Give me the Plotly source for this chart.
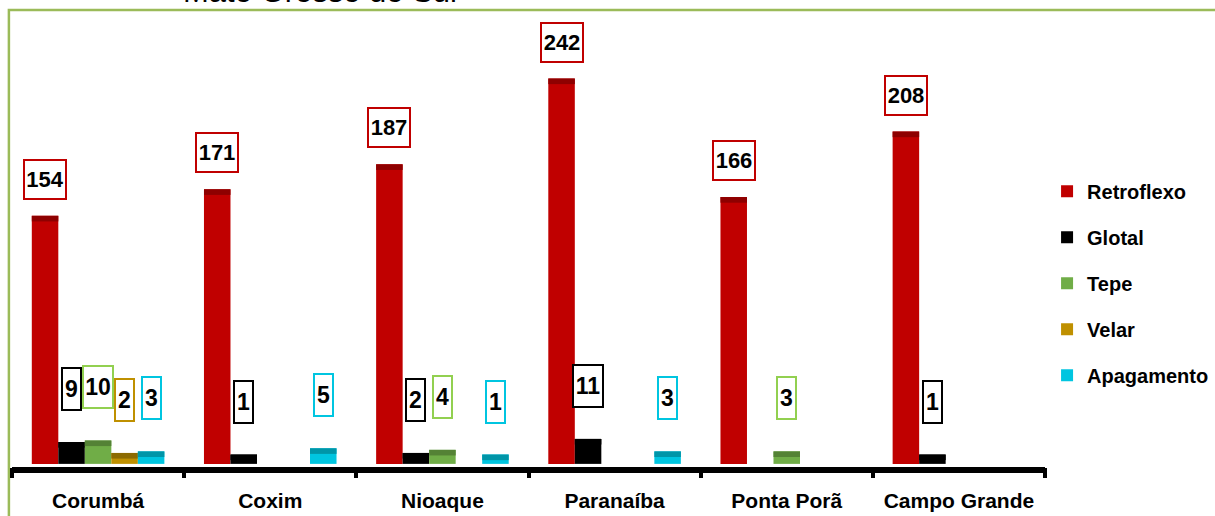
'''
Realização do /r/ em coda - Mato Grosso do Sul (gráfico de barras agrupadas)
'''

import plotly.graph_objects as go

cidades = ['Corumbá', 'Coxim', 'Nioaque', 'Paranaíba', 'Ponta Porã', 'Campo Grande']
series = ['Retroflexo', 'Glotal', 'Tepe', 'Velar', 'Apagamento']

retroflexo = [154, 171, 187, 242, 166, 208]
glotal = [9, 1, 2, 11, 0, 1]
tepe = [10, 0, 4, 0, 3, 0]
velar = [2, 0, 0, 0, 0, 0]
apagamento = [3, 5, 1, 3, 0, 0]

valores = [retroflexo, glotal, tepe, velar, apagamento]

cores = ['#C00000', '#000000', '#70AD47', '#BF9000', '#00C5E0']
cores_topo = ['#8E0000', '#000000', '#548235', '#8C6A00', '#0095A8']
cores_borda = ['#C00000', '#000000', '#92D050', '#BF9000', '#00C5E0']

FONTE = 'Liberation Sans, Arial'
PROF = 5      # "profundidade" 3D do Excel: as barras começam abaixo do zero
TOPO = 3.6    # faixa escura no topo das barras
BARGAP = 0.23

fig = go.Figure()

for i, (nome, vals) in enumerate(zip(series, valores)):
    ys = [v + PROF if v else None for v in vals]
    fig.add_trace(go.Bar(
        x=cidades, y=ys, base=-PROF, name=f'<b>{nome}</b>',
        marker={'color': cores[i], 'line': {'width': 0}},
        offsetgroup=nome, legendgroup=nome, hoverinfo='skip'))
    fig.add_trace(go.Bar(
        x=cidades, y=[TOPO if v else None for v in vals],
        base=[v - TOPO if v else None for v in vals],
        marker={'color': cores_topo[i], 'line': {'width': 0}},
        offsetgroup=nome, legendgroup=nome, showlegend=False,
        hoverinfo='skip'))

# rótulos em caixas
slot = (1 - BARGAP) / len(series)
anotacoes = []
for i, vals in enumerate(valores):
    for j, v in enumerate(vals):
        if not v:
            continue
        txt = str(v)
        if i == 0:
            w, h, shift, size = 38, 35, 16, 22
        else:
            w, h, shift, size = 4 + 11 * len(txt), 38, 31, 23
        anotacoes.append(dict(
            x=j + (i - 2) * slot, y=v, xref='x2', yref='y',
            text=f'<b>{txt}</b>', showarrow=False,
            yanchor='bottom', yshift=shift, width=w, height=h,
            font={'family': FONTE, 'size': size, 'color': 'black'},
            bordercolor=cores_borda[i], borderwidth=2, bgcolor='white'))

anotacoes.append(dict(
    x=0.298, y=(467 - 11) / 447, xref='paper', yref='paper',
    text='Mato Grosso do Sul', showarrow=False,
    xanchor='center', yanchor='bottom',
    font={'family': 'Liberation Sans, Arial', 'size': 31, 'color': 'black'}))

limites = [k - 0.5 for k in range(len(cidades) + 1)]
eixo_ticks = dict(
    range=[-0.5, len(cidades) - 0.5], overlaying='x', anchor='y',
    tickvals=limites, ticklen=10, tickwidth=4, tickcolor='black',
    showticklabels=False, showgrid=False, zeroline=False, showline=False)

fig.update_layout(
    width=1215, height=516,
    margin={'l': 12, 'r': 170, 't': 20, 'b': 49, 'autoexpand': False},
    paper_bgcolor='white', plot_bgcolor='white',
    barmode='group', bargap=BARGAP, bargroupgap=0,
    annotations=anotacoes,
    xaxis=dict(
        type='category', categoryarray=cidades, range=[-0.5, 5.5],
        tickvals=cidades, ticktext=[f'<b>{c}</b>' for c in cidades],
        showline=True, linewidth=6, linecolor='black', ticks='',
        ticklabelstandoff=10, showgrid=False,
        tickfont={'family': FONTE, 'size': 21, 'color': 'black'}),
    xaxis2=dict(eixo_ticks, ticks='outside'),
    xaxis3=dict(eixo_ticks, ticks='inside'),
    yaxis=dict(range=[-7, 279.5], visible=False, showgrid=False),
    legend=dict(
        x=1.002, xanchor='left', y=0.411, yanchor='middle',
        font={'family': FONTE, 'size': 20, 'color': 'black'},
        tracegroupgap=17, itemclick=False),
    shapes=[dict(
        type='rect', xref='paper', yref='paper',
        x0=-0.003, x1=1.3, y0=-0.2, y1=(467 - 10) / 447,
        line={'color': '#9BBB59', 'width': 2.5}, layer='below')],
)

# sem a margem padrão do <body>, a figura fica alinhada ao canto da janela
fig.write_html('out.html', config={'displayModeBar': False},
               post_script="document.body.style.margin='0';")
